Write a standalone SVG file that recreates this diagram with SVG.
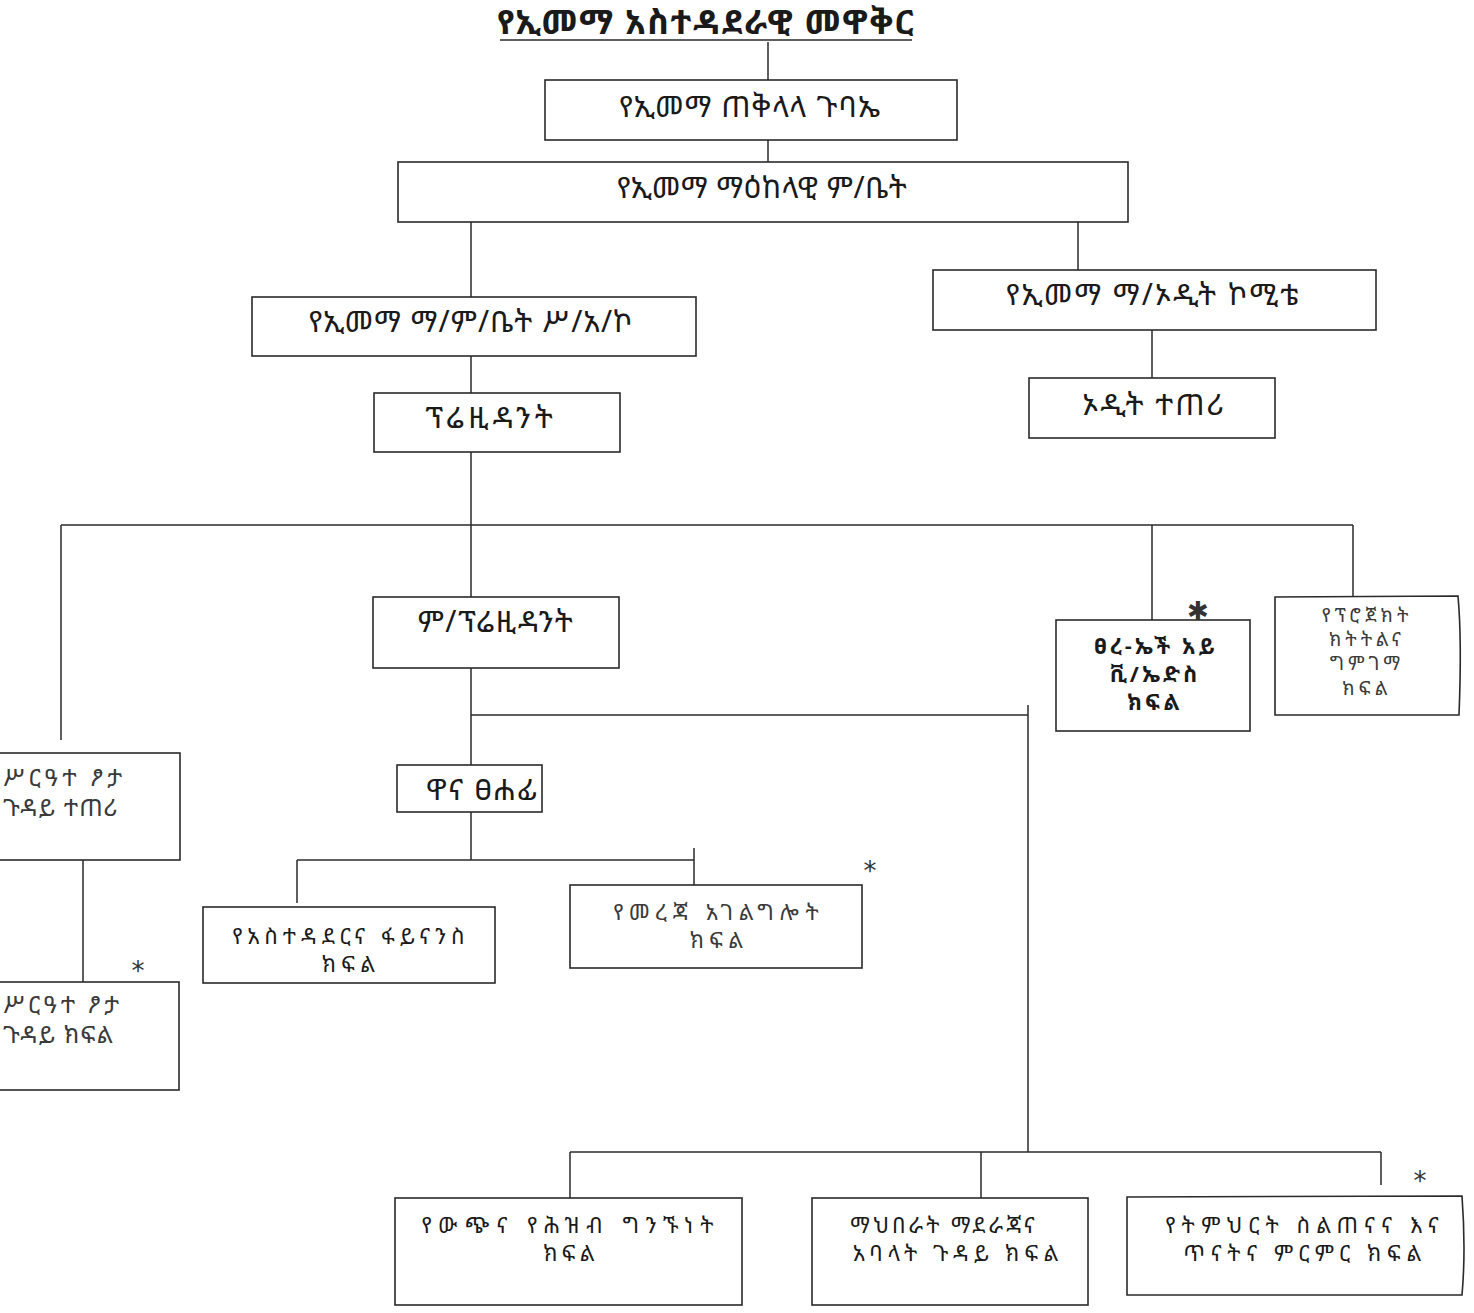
<svg xmlns="http://www.w3.org/2000/svg" width="1474" height="1313" viewBox="0 0 1474 1313">
<style>
.bx{fill:#fff;stroke:#2a2a2a;stroke-width:1.6}
.ln{stroke:#2a2a2a;stroke-width:1.5;fill:none}
.t{font-family:"Noto Sans Ethiopic","Noto Serif Ethiopic","Abyssinica SIL","Noto Sans","DejaVu Sans",sans-serif;font-size:30px;fill:#1a1a1a;text-anchor:middle}
.two{font-size:22px}
.lf{font-size:24px;text-anchor:start;fill:#3a3a3a}
.tl{fill:#3a3a3a}
.sm{font-size:19px;letter-spacing:4px;fill:#3a3a3a}
.ttl{font-size:34px;font-weight:bold;letter-spacing:1.5px}
.ast{font-family:"DejaVu Sans",sans-serif;font-size:26px;fill:#333;text-anchor:middle}
</style>
<rect width="1474" height="1313" fill="#fff"/>
<g id="title">
<text class="t ttl" x="706" y="34">የኢመማ አስተዳደራዊ መዋቅር</text>
<line class="ln" x1="500" y1="40" x2="912" y2="40"/>
</g>
<g id="connectors">
<line class="ln" x1="768" y1="42" x2="768" y2="80"/>
<line class="ln" x1="768" y1="140" x2="768" y2="162"/>
<line class="ln" x1="471" y1="210" x2="471" y2="297"/>
<line class="ln" x1="1078" y1="222" x2="1078" y2="270"/>
<line class="ln" x1="1152" y1="330" x2="1152" y2="378"/>
<line class="ln" x1="471" y1="356" x2="471" y2="393"/>
<line class="ln" x1="471" y1="452" x2="471" y2="597"/>
<line class="ln" x1="61" y1="525" x2="1353" y2="525"/>
<line class="ln" x1="61" y1="525" x2="61" y2="740"/>
<line class="ln" x1="1152" y1="525" x2="1152" y2="620"/>
<line class="ln" x1="1353" y1="525" x2="1353" y2="597"/>
<line class="ln" x1="471" y1="668" x2="471" y2="765"/>
<line class="ln" x1="471" y1="715" x2="1028" y2="715"/>
<line class="ln" x1="1028" y1="705" x2="1028" y2="1152"/>
<line class="ln" x1="471" y1="812" x2="471" y2="860"/>
<line class="ln" x1="297" y1="860" x2="694" y2="860"/>
<line class="ln" x1="297" y1="860" x2="297" y2="903"/>
<line class="ln" x1="694" y1="848" x2="694" y2="885"/>
<line class="ln" x1="83" y1="860" x2="83" y2="982"/>
<line class="ln" x1="570" y1="1152" x2="1381" y2="1152"/>
<line class="ln" x1="570" y1="1152" x2="570" y2="1198"/>
<line class="ln" x1="981" y1="1152" x2="981" y2="1198"/>
<line class="ln" x1="1381" y1="1152" x2="1381" y2="1185"/>
</g>
<g id="n-gubae">
<rect class="bx" x="545" y="80" width="412" height="60"/>
<text class="t" x="750" y="117" letter-spacing="1">የኢመማ ጠቅላላ ጉባኤ</text>
</g>
<g id="n-mbet">
<rect class="bx" x="398" y="162" width="730" height="60"/>
<text class="t" x="762" y="198" letter-spacing="0.5">የኢመማ ማዕከላዊ ም/ቤት</text>
</g>
<g id="n-saak">
<rect class="bx" x="252" y="297" width="444" height="59"/>
<text class="t" x="471" y="332" letter-spacing="1">የኢመማ ማ/ም/ቤት ሥ/አ/ኮ</text>
</g>
<g id="n-audit-com">
<rect class="bx" x="933" y="270" width="443" height="60"/>
<text class="t" x="1153" y="305" letter-spacing="2">የኢመማ ማ/ኦዲት ኮሚቴ</text>
</g>
<g id="n-audit">
<rect class="bx" x="1029" y="378" width="246" height="60"/>
<text class="t" x="1154" y="415" letter-spacing="2">ኦዲት ተጠሪ</text>
</g>
<g id="n-president">
<rect class="bx" x="374" y="393" width="246" height="59"/>
<text class="t" x="491" y="428" letter-spacing="4">ፕሬዚዳንት</text>
</g>
<g id="n-vp">
<rect class="bx" x="373" y="597" width="246" height="71"/>
<text class="t" x="496" y="632" letter-spacing="1.5">ም/ፕሬዚዳንት</text>
</g>
<g id="n-hiv">
<rect class="bx" x="1056" y="620" width="194" height="111"/>
<text class="t two" x="1156" y="654" font-weight="bold" letter-spacing="3">ፀረ-ኤች አይ</text>
<text class="t two" x="1155" y="682" font-weight="bold" letter-spacing="3">ቪ/ኤድስ</text>
<text class="t two" x="1155" y="710" font-weight="bold" letter-spacing="3">ክፍል</text>
<text class="ast" x="1198" y="620" font-weight="bold">✱</text>
</g>
<g id="n-project">
<path class="bx" d="M1275 597 L1458 596 Q1462 640 1459 715 L1275 715 Z"/>
<text class="t sm" x="1367" y="622">የፕሮጀክት</text>
<text class="t sm" x="1367" y="646">ክትትልና</text>
<text class="t sm" x="1367" y="670">ግምገማ</text>
<text class="t sm" x="1367" y="695">ክፍል</text>
</g>
<g id="n-gender-liaison">
<rect class="bx" x="-10" y="753" width="190" height="107"/>
<text class="t lf" x="3" y="786" letter-spacing="4">ሥርዓተ ፆታ</text>
<text class="t lf" x="3" y="816" letter-spacing="1">ጉዳይ ተጠሪ</text>
</g>
<g id="n-gender-dept">
<rect class="bx" x="-10" y="982" width="189" height="108"/>
<text class="t lf" x="3" y="1013" letter-spacing="3.5">ሥርዓተ ፆታ</text>
<text class="t lf" x="3" y="1043" letter-spacing="1">ጉዳይ ክፍል</text>
<text class="ast" x="138" y="980">*</text>
</g>
<g id="n-secretary">
<rect class="bx" x="397" y="765" width="145" height="47"/>
<text class="t" x="482" y="800" letter-spacing="1.5">ዋና ፀሐፊ</text>
</g>
<g id="n-admin-finance">
<rect class="bx" x="203" y="907" width="292" height="76"/>
<text class="t two" x="351" y="944" letter-spacing="5">የአስተዳደርና ፋይናንስ</text>
<text class="t two" x="351" y="972" letter-spacing="5">ክፍል</text>
</g>
<g id="n-info">
<rect class="bx" x="570" y="885" width="292" height="83"/>
<text class="t two tl" x="719" y="920" letter-spacing="6">የመረጃ አገልግሎት</text>
<text class="t two tl" x="719" y="948" letter-spacing="5">ክፍል</text>
<text class="ast" x="870" y="880">*</text>
</g>
<g id="n-public-relations">
<rect class="bx" x="395" y="1198" width="347" height="107"/>
<text class="t two" x="571" y="1233" letter-spacing="7">የውጭና የሕዝብ ግንኙነት</text>
<text class="t two" x="571" y="1261" letter-spacing="4">ክፍል</text>
</g>
<g id="n-associations">
<rect class="bx" x="812" y="1198" width="276" height="107"/>
<text class="t two" x="944" y="1233" letter-spacing="3">ማህበራት ማደራጃና</text>
<text class="t two" x="958" y="1261" letter-spacing="5">አባላት ጉዳይ ክፍል</text>
</g>
<g id="n-education">
<path class="bx" d="M1127 1197 L1462 1196 Q1466 1250 1462 1295 L1127 1295 Z"/>
<text class="t two" x="1305" y="1233" letter-spacing="6">የትምህርት ስልጠናና እና</text>
<text class="t two" x="1305" y="1261" letter-spacing="5.5">ጥናትና ምርምር ክፍል</text>
<text class="ast" x="1420" y="1190">*</text>
</g>
</svg>
